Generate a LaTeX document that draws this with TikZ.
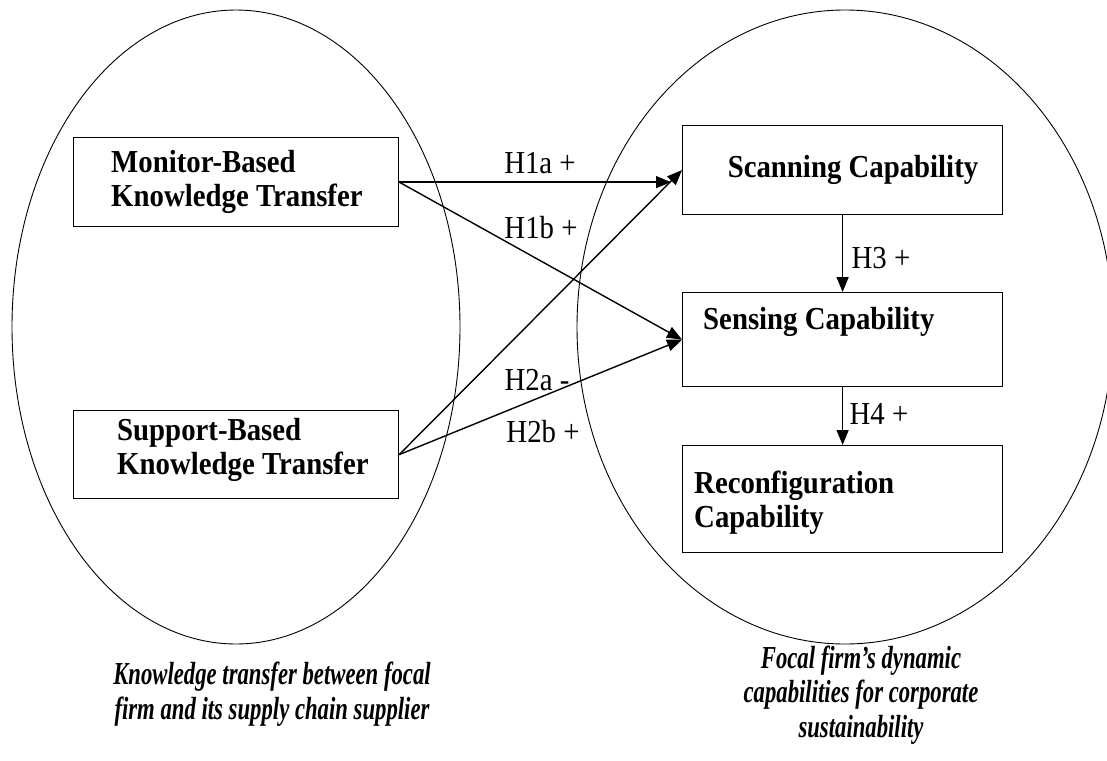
\documentclass[tikz,border=0pt]{standalone}
\usepackage{fontspec}
\setmainfont{Liberation Serif}[FakeStretch=0.9]
\newfontfamily\capfont[FakeStretch=0.71]{Liberation Serif}
\usetikzlibrary{arrows.meta}
\begin{document}
\begin{tikzpicture}[x=1pt,y=-1pt,
  oval/.style={line width=0.9pt},
  box/.style={draw, line width=1.2pt, anchor=north west, inner sep=0pt},
  boxtext/.style={font=\fontsize{32}{34}\selectfont\bfseries, inner sep=0pt, align=left},
  hyp/.style={font=\fontsize{32}{34}\selectfont, inner sep=0pt},
  link/.style={line width=1.4pt, -{Triangle[length=15pt,width=12pt]}},
  caption/.style={font=\fontsize{32}{34.5}\capfont\bfseries\itshape, inner sep=0pt, align=center}]
\useasboundingbox (0,0) rectangle (1107,760);

% the two domains
\begin{scope}
  \clip (0,0) rectangle (1107,760);
  \draw[oval] (236,327) ellipse [x radius=224, y radius=317];
  \draw[oval] (845,327) ellipse [x radius=268, y radius=317];
\end{scope}

% constructs
\node[box, minimum width=325pt, minimum height=89pt] (mon) at (73,137) {};
\node[box, minimum width=325pt, minimum height=88pt] (sup) at (73,410) {};
\node[box, minimum width=320pt, minimum height=89pt] (scan) at (682,125) {};
\node[box, minimum width=320pt, minimum height=94pt] (sens) at (682,292) {};
\node[box, minimum width=320pt, minimum height=107pt] (rec) at (682,445) {};

\node[boxtext, anchor=west] (monT) at (111,182) {Monitor-Based\\Knowledge Transfer};
\node[boxtext, anchor=west] (supT) at (117,450) {Support-Based\\Knowledge Transfer};
\node[boxtext] (scanT) at (853,170) {Scanning Capability};
\node[boxtext, anchor=west] (sensT) at (703,322) {Sensing Capability};
\node[boxtext, anchor=west] (recT) at (694,503) {Reconfiguration\\Capability};

% hypothesised paths
\draw[link, shorten >=11pt] (mon.east) -- (mon.east -| scan.west);
\draw[link] (mon.east) -- (sens.west);
\draw[link] (sup.east) -- (scan.west);
\draw[link] (sup.east) -- (sens.west);
\draw[link] (scan.south) -- (sens.north);
\draw[link] (sens.south) -- (rec.north);

\node[hyp] (h1a) at (540,163) {H1a +};
\node[hyp] (h1b) at (541,228) {H1b +};
\node[hyp] (h2a) at (537,380) {H2a -};
\node[hyp] (h2b) at (543,432) {H2b +};
\node[hyp] (h3) at (881,258) {H3 +};
\node[hyp] (h4) at (879,414) {H4 +};

% domain captions
\node[caption] (capL) at (272,694) {Knowledge transfer between focal\\firm and its supply chain supplier};
\node[caption] (capR) at (861,695) {Focal firm’s dynamic\\capabilities for corporate\\sustainability};
\end{tikzpicture}
\end{document}
